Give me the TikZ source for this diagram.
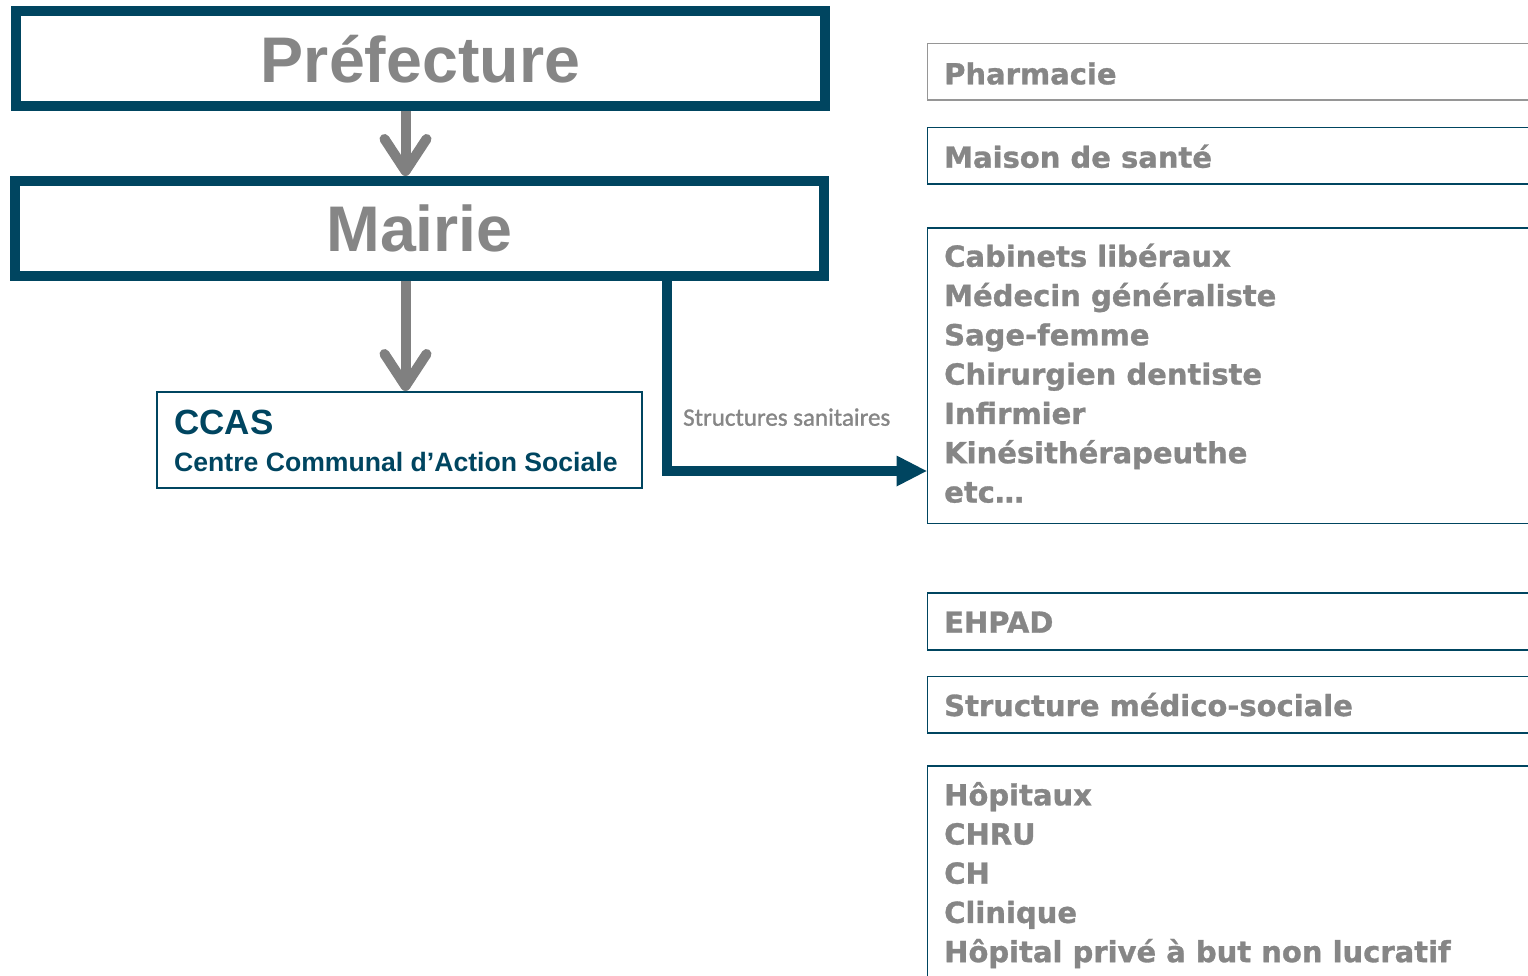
\documentclass[tikz,border=0pt]{standalone}
\usepackage{fontspec}
\usetikzlibrary{arrows.meta}
\newfontfamily\arialf{Liberation Sans}
\newfontfamily\tahomaf[BoldFeatures={FakeBold=1}]{DejaVu Sans}
\newfontfamily\calibrif[FakeBold=1.2]{Carlito}
\definecolor{navy}{RGB}{0,69,96}
\definecolor{txtgray}{RGB}{134,134,134}
\definecolor{arrowgray}{RGB}{128,128,128}
\definecolor{boxgray}{RGB}{150,150,150}
\begin{document}
\begin{tikzpicture}[x=1pt,y=-1pt,
  bigbox/.style={draw=navy, line width=10pt, fill=white, inner sep=0pt,
    minimum width=809pt, minimum height=95pt, text=txtgray,
    font=\arialf\bfseries\fontsize{64.5}{70}\selectfont,
    text height=47pt, text depth=0pt},
  listbox/.style={draw=navy, line width=1.5pt, fill=white, inner sep=0pt,
    anchor=north west, minimum width=640pt},
  itemtext/.style={anchor=base west, inner sep=0pt, text=txtgray,
    font=\tahomaf\bfseries\fontsize{29}{34}\selectfont},
  ccastext/.style={anchor=base west, inner sep=0pt, text=navy},
  downarrow/.style={draw=arrowgray, line width=10pt,
    -{Straight Barb[length=32pt,width=42pt,round]}},
  brancharrow/.style={draw=navy, line width=10pt,
    -{Triangle[length=30pt,width=31pt,line width=0pt]}}
]
\useasboundingbox (0,0) rectangle (1528,976);
\clip (0,0) rectangle (1528,976);

% hierarchy on the left
\node[bigbox] (pref) at (420.5,59) {Préfecture};
\node[bigbox] (mairie) at (419.5,228.5) {Mairie};

\node[draw=navy, line width=1.5pt, inner sep=0pt, anchor=north west,
  minimum width=485pt, minimum height=96pt] (ccas) at (156,391) {};
\node[ccastext, font=\arialf\bfseries\fontsize{35}{40}\selectfont]
  (ccastitle) at (174,434) {CCAS};
\node[ccastext, font=\arialf\bfseries\fontsize{26.6}{30}\selectfont]
  (ccassub) at (174,471.7) {Centre Communal d’Action Sociale};

\coordinate (drop) at (405.5,0);
\draw[downarrow] (pref.south -| drop) -- (mairie.north -| drop);
\draw[downarrow] (mairie.south -| drop) -- (ccas.north -| drop);

% list of health structures on the right
\node[listbox, draw=boxgray, minimum height=56.5pt] (pharm) at (926.5,42.7) {};
\node[itemtext] (pharmt) at (944,84.3) {Pharmacie};

\node[listbox, minimum height=56.5pt] (maison) at (926.5,126.7) {};
\node[itemtext] (maisont) at (944,167.7) {Maison de santé};

\node[listbox, minimum height=295.5pt] (cab) at (926.5,227.2) {};
\foreach \txt [count=\i from 0] in {Cabinets libéraux, Médecin généraliste,
    Sage-femme, Chirurgien dentiste, Infirmier, Kinésithérapeuthe, etc…}
  \node[itemtext] (cab\i) at (944,266.7+39.3*\i) {\txt};

\node[listbox, minimum height=56.7pt] (ehpad) at (926.5,592.3) {};
\node[itemtext] (ehpadt) at (944,632.7) {EHPAD};

\node[listbox, minimum height=56.6pt] (medsoc) at (926.5,675.7) {};
\node[itemtext] (medsoct) at (944,716) {Structure médico-sociale};

\node[listbox, minimum height=260pt] (hosp) at (926.5,765) {};
\foreach \txt [count=\i from 0] in {Hôpitaux, CHRU, CH, Clinique,
    Hôpital privé à but non lucratif}
  \node[itemtext] (hosp\i) at (944,805.3+39.2*\i) {\txt};

% branch from the town hall to the health structures
\coordinate (branch) at (667,471);
\draw[brancharrow] (mairie.south -| branch) |- (cab.west |- branch);
\node[anchor=base west, inner sep=0pt, text=txtgray,
  font=\calibrif\fontsize{25}{30}\selectfont]
  (sanit) at (683,425.7) {Structures sanitaires};
\end{tikzpicture}
\end{document}
